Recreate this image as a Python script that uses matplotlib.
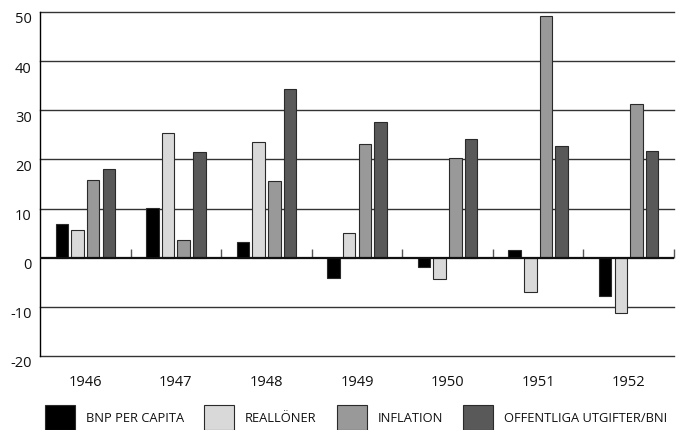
import numpy as np
import matplotlib
matplotlib.use("Agg")
import matplotlib.pyplot as plt
from matplotlib.transforms import offset_copy

# ========================
# Data
# ========================
years = ["1946", "1947", "1948", "1949", "1950", "1951", "1952"]
bnp_per_capita = [6.9, 10.2, 3.2, -4.1, -1.9, 1.5, -7.7]
realloner = [5.7, 25.4, 23.6, 5.0, -4.3, -7.0, -11.3]
inflation = [15.9, 3.6, 15.6, 23.1, 20.3, 49.2, 31.3]
offentliga = [18.1, 21.6, 34.4, 27.7, 24.2, 22.7, 21.7]

series_names = ["BNP PER CAPITA", "REALLÖNER", "INFLATION", "OFFENTLIGA UTGIFTER/BNI"]
series_colors = ["#000000", "#d9d9d9", "#999999", "#595959"]
y_ticks = [-20, -10, 0, 10, 20, 30, 40, 50]

# ========================
# Style
# ========================
plt.rcParams['font.family'] = ['Open Sans', 'DejaVu Sans']
plt.rcParams['font.size'] = 10

W, H = 686, 431
fig = plt.figure(figsize=(W / 100, H / 100), dpi=100)
ax = fig.add_axes([40 / W, 1 - 357 / H, 634 / W, 344 / H])

x = np.arange(len(years))
step = 0.173
width = 0.138
all_series = [bnp_per_capita, realloner, inflation, offentliga]
handles = []
for i, (vals, name, col) in enumerate(zip(all_series, series_names, series_colors)):
    off = (i - 1.5) * step
    b = ax.bar(x + off, vals, width, color=col, edgecolor="#2a2a2a",
               linewidth=0.8, label=name, zorder=3)
    handles.append(b)

ax.set_xlim(-0.5, len(years) - 0.5)
ax.set_ylim(-20, 50)

# grid lines
for v in y_ticks:
    if v == 0:
        continue
    ax.axhline(v, color="#333333", linewidth=1.0, zorder=1, clip_on=False)
ax.axhline(0, color="#111111", linewidth=1.6, zorder=4)
# small ticks on zero line between groups
ax.vlines(np.arange(len(years)) + 0.5, 0, 1.8, color="#555555", linewidth=1.0,
          zorder=2, clip_on=False)

for s in ["top", "right", "bottom"]:
    ax.spines[s].set_visible(False)
ax.spines["left"].set_color("#000000")
ax.spines["left"].set_linewidth(1.0)

ax.set_yticks(y_ticks)
ax.set_yticklabels([str(v) for v in y_ticks])
ax.tick_params(axis="y", length=0, pad=6, labelsize=10.5, labelcolor="#111111")
for lab in ax.get_yticklabels():
    lab.set_transform(offset_copy(lab.get_transform(), fig=fig, y=-5, units="dots"))

ax.set_xticks(x)
ax.set_xticklabels(years)
ax.tick_params(axis="x", length=0, pad=13, labelsize=10.5, labelcolor="#111111")

leg = ax.legend(handles=handles, loc="upper left", bbox_to_anchor=(0.008, -0.142),
                ncol=4, frameon=False, fontsize=9.3, handlelength=2.32,
                handleheight=2.6, handletextpad=0.85, columnspacing=1.55,
                borderaxespad=0, borderpad=0)
for t in leg.get_texts():
    t.set_color("#111111")

fig.savefig("out.png", dpi=100, facecolor="white")
